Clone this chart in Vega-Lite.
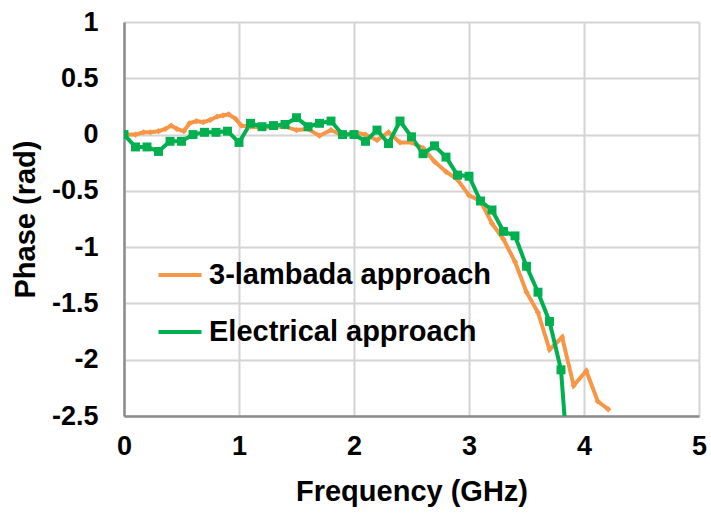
{
  "$schema": "https://vega.github.io/schema/vega-lite/v6.json",
  "width": 575,
  "height": 394,
  "autosize": {"type": "none"},
  "padding": {"left": 124, "top": 22, "right": 12, "bottom": 97},
  "background": "white",
  "config": {
    "view": {"stroke": null},
    "font": "Liberation Sans",
    "axis": {
      "labelFont": "Liberation Sans",
      "titleFont": "Liberation Sans",
      "labelFontWeight": "bold",
      "titleFontWeight": "bold",
      "labelColor": "black",
      "titleColor": "black",
      "labelFontSize": 27,
      "titleFontSize": 29,
      "gridColor": "#D4D4D4",
      "gridWidth": 2,
      "domainColor": "#8C8C8C",
      "domainWidth": 2.5,
      "ticks": false
    },
    "legend": {
      "labelFont": "Liberation Sans",
      "labelFontWeight": "bold",
      "labelFontSize": 29,
      "labelColor": "black",
      "labelLimit": 0
    }
  },
  "datasets": {
    "phase": [
      {"series": "3-lambada approach", "freq": 0, "phase": 0},
      {"series": "3-lambada approach", "freq": 0.1, "phase": 0.0},
      {"series": "3-lambada approach", "freq": 0.17, "phase": 0.02},
      {"series": "3-lambada approach", "freq": 0.23, "phase": 0.02},
      {"series": "3-lambada approach", "freq": 0.3, "phase": 0.03},
      {"series": "3-lambada approach", "freq": 0.36, "phase": 0.05},
      {"series": "3-lambada approach", "freq": 0.41, "phase": 0.08},
      {"series": "3-lambada approach", "freq": 0.46, "phase": 0.05},
      {"series": "3-lambada approach", "freq": 0.52, "phase": 0.03},
      {"series": "3-lambada approach", "freq": 0.57, "phase": 0.1},
      {"series": "3-lambada approach", "freq": 0.63, "phase": 0.12},
      {"series": "3-lambada approach", "freq": 0.69, "phase": 0.11},
      {"series": "3-lambada approach", "freq": 0.75, "phase": 0.13},
      {"series": "3-lambada approach", "freq": 0.81, "phase": 0.16},
      {"series": "3-lambada approach", "freq": 0.86, "phase": 0.17},
      {"series": "3-lambada approach", "freq": 0.91, "phase": 0.18},
      {"series": "3-lambada approach", "freq": 0.97, "phase": 0.14},
      {"series": "3-lambada approach", "freq": 1.02, "phase": 0.08},
      {"series": "3-lambada approach", "freq": 1.1, "phase": 0.07},
      {"series": "3-lambada approach", "freq": 1.2, "phase": 0.06},
      {"series": "3-lambada approach", "freq": 1.3, "phase": 0.07},
      {"series": "3-lambada approach", "freq": 1.4, "phase": 0.07},
      {"series": "3-lambada approach", "freq": 1.5, "phase": 0.04},
      {"series": "3-lambada approach", "freq": 1.6, "phase": 0.05},
      {"series": "3-lambada approach", "freq": 1.7, "phase": -0.01},
      {"series": "3-lambada approach", "freq": 1.8, "phase": 0.04},
      {"series": "3-lambada approach", "freq": 1.9, "phase": -0.01},
      {"series": "3-lambada approach", "freq": 2.0, "phase": 0.02},
      {"series": "3-lambada approach", "freq": 2.1, "phase": 0.0},
      {"series": "3-lambada approach", "freq": 2.2, "phase": -0.05},
      {"series": "3-lambada approach", "freq": 2.3, "phase": 0.02},
      {"series": "3-lambada approach", "freq": 2.4, "phase": -0.07},
      {"series": "3-lambada approach", "freq": 2.5, "phase": -0.07},
      {"series": "3-lambada approach", "freq": 2.6, "phase": -0.12},
      {"series": "3-lambada approach", "freq": 2.7, "phase": -0.24},
      {"series": "3-lambada approach", "freq": 2.8, "phase": -0.33},
      {"series": "3-lambada approach", "freq": 2.9, "phase": -0.4},
      {"series": "3-lambada approach", "freq": 3.0, "phase": -0.54},
      {"series": "3-lambada approach", "freq": 3.1, "phase": -0.59},
      {"series": "3-lambada approach", "freq": 3.2, "phase": -0.79},
      {"series": "3-lambada approach", "freq": 3.3, "phase": -0.93},
      {"series": "3-lambada approach", "freq": 3.4, "phase": -1.13},
      {"series": "3-lambada approach", "freq": 3.5, "phase": -1.4},
      {"series": "3-lambada approach", "freq": 3.6, "phase": -1.58},
      {"series": "3-lambada approach", "freq": 3.7, "phase": -1.91},
      {"series": "3-lambada approach", "freq": 3.81, "phase": -1.8},
      {"series": "3-lambada approach", "freq": 3.91, "phase": -2.23},
      {"series": "3-lambada approach", "freq": 4.02, "phase": -2.1},
      {"series": "3-lambada approach", "freq": 4.12, "phase": -2.37},
      {"series": "3-lambada approach", "freq": 4.21, "phase": -2.44},
      {"series": "Electrical approach", "freq": 0, "phase": 0},
      {"series": "Electrical approach", "freq": 0.1, "phase": -0.11},
      {"series": "Electrical approach", "freq": 0.2, "phase": -0.11},
      {"series": "Electrical approach", "freq": 0.3, "phase": -0.15},
      {"series": "Electrical approach", "freq": 0.4, "phase": -0.06},
      {"series": "Electrical approach", "freq": 0.5, "phase": -0.06},
      {"series": "Electrical approach", "freq": 0.6, "phase": 0.0},
      {"series": "Electrical approach", "freq": 0.7, "phase": 0.02},
      {"series": "Electrical approach", "freq": 0.8, "phase": 0.02},
      {"series": "Electrical approach", "freq": 0.9, "phase": 0.03},
      {"series": "Electrical approach", "freq": 1.0, "phase": -0.07},
      {"series": "Electrical approach", "freq": 1.1, "phase": 0.1},
      {"series": "Electrical approach", "freq": 1.2, "phase": 0.07},
      {"series": "Electrical approach", "freq": 1.3, "phase": 0.08},
      {"series": "Electrical approach", "freq": 1.4, "phase": 0.09},
      {"series": "Electrical approach", "freq": 1.5, "phase": 0.15},
      {"series": "Electrical approach", "freq": 1.6, "phase": 0.07},
      {"series": "Electrical approach", "freq": 1.7, "phase": 0.1},
      {"series": "Electrical approach", "freq": 1.8, "phase": 0.12},
      {"series": "Electrical approach", "freq": 1.9, "phase": 0.0},
      {"series": "Electrical approach", "freq": 2.0, "phase": 0.0},
      {"series": "Electrical approach", "freq": 2.1, "phase": -0.06},
      {"series": "Electrical approach", "freq": 2.2, "phase": 0.04},
      {"series": "Electrical approach", "freq": 2.3, "phase": -0.08},
      {"series": "Electrical approach", "freq": 2.4, "phase": 0.12},
      {"series": "Electrical approach", "freq": 2.5, "phase": -0.02},
      {"series": "Electrical approach", "freq": 2.6, "phase": -0.17},
      {"series": "Electrical approach", "freq": 2.7, "phase": -0.1},
      {"series": "Electrical approach", "freq": 2.8, "phase": -0.2},
      {"series": "Electrical approach", "freq": 2.9, "phase": -0.36},
      {"series": "Electrical approach", "freq": 3.0, "phase": -0.37},
      {"series": "Electrical approach", "freq": 3.1, "phase": -0.59},
      {"series": "Electrical approach", "freq": 3.2, "phase": -0.67},
      {"series": "Electrical approach", "freq": 3.3, "phase": -0.86},
      {"series": "Electrical approach", "freq": 3.4, "phase": -0.9},
      {"series": "Electrical approach", "freq": 3.5, "phase": -1.17},
      {"series": "Electrical approach", "freq": 3.6, "phase": -1.4},
      {"series": "Electrical approach", "freq": 3.7, "phase": -1.66},
      {"series": "Electrical approach", "freq": 3.8, "phase": -2.09},
      {"series": "Electrical approach", "freq": 3.86, "phase": -2.9}
    ]
  },
  "data": {"name": "phase"},
  "encoding": {
    "x": {
      "field": "freq",
      "type": "quantitative",
      "scale": {"domain": [0, 5], "nice": false},
      "axis": {
        "title": "Frequency (GHz)",
        "values": [0, 1, 2, 3, 4, 5],
        "labelExpr": "'' + datum.value",
        "labelPadding": 17,
        "titlePadding": 18,
        "labelFlush": false
      }
    },
    "y": {
      "field": "phase",
      "type": "quantitative",
      "scale": {"domain": [-2.5, 1], "nice": false},
      "axis": {
        "title": "Phase (rad)",
        "values": [-2.5, -2, -1.5, -1, -0.5, 0, 0.5, 1],
        "labelExpr": "'' + datum.value",
        "labelPadding": 26,
        "titlePadding": 11,
        "labelFlush": false
      }
    },
    "color": {
      "field": "series",
      "type": "nominal",
      "scale": {
        "domain": ["3-lambada approach", "Electrical approach"],
        "range": ["#F79646", "#00B050"]
      }
    }
  },
  "layer": [
    {
      "mark": {"type": "line", "strokeWidth": 4, "clip": true},
      "encoding": {
        "color": {
          "field": "series",
          "type": "nominal",
          "scale": {
            "domain": ["3-lambada approach", "Electrical approach"],
            "range": ["#F79646", "#00B050"]
          },
          "legend": {
            "title": null,
            "orient": "none",
            "legendX": 32,
            "legendY": 229,
            "symbolType": "stroke",
            "symbolSize": 1850,
            "symbolStrokeWidth": 4,
            "labelOffset": 5,
            "rowPadding": 18,
            "padding": 0
          }
        }
      }
    },
    {
      "transform": [{"filter": "datum.series === '3-lambada approach'"}],
      "mark": {"type": "point", "shape": "diamond", "filled": true, "size": 40, "opacity": 1, "clip": true},
      "encoding": {"color": {"value": "#F79646"}}
    },
    {
      "transform": [{"filter": "datum.series === 'Electrical approach'"}],
      "mark": {"type": "square", "size": 80, "opacity": 1, "clip": true},
      "encoding": {"color": {"value": "#00B050"}}
    }
  ]
}
